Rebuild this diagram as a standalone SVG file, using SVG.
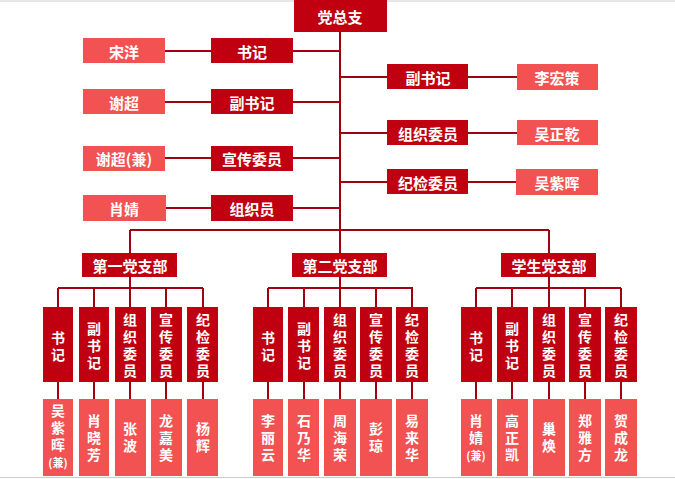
<svg xmlns="http://www.w3.org/2000/svg" width="675" height="479" viewBox="0 0 675 479">
<style>
.d{fill:#c00010}.n{fill:#f25252}
text{font-family:"Noto Sans CJK SC","Liberation Serif",serif;fill:#fff;font-weight:bold;text-anchor:middle;dominant-baseline:central;font-size:15px}
.v{font-size:14px}
.c line{stroke:#a00010;stroke-width:2}
</style>
<rect width="675" height="479" fill="#fff"/>
<line x1="0" y1="1" x2="675" y2="1" stroke="#ccc"/>
<line x1="0" y1="477.5" x2="675" y2="477.5" stroke="#ccc"/>
<g class="c">
<line x1="340" y1="32" x2="340" y2="253"/>
<line x1="130" y1="230" x2="549" y2="230"/>
<line x1="130" y1="230" x2="130" y2="253"/><line x1="549" y1="230" x2="549" y2="253"/>
<line x1="165" y1="51" x2="340" y2="51"/><line x1="165" y1="102" x2="340" y2="102"/>
<line x1="165" y1="158" x2="340" y2="158"/><line x1="165" y1="208" x2="340" y2="208"/>
<line x1="340" y1="77" x2="517" y2="77"/><line x1="340" y1="133" x2="517" y2="133"/><line x1="340" y1="182" x2="517" y2="182"/>
<line x1="130" y1="277" x2="130" y2="288"/><line x1="340" y1="277" x2="340" y2="288"/><line x1="549" y1="277" x2="549" y2="288"/>
<line x1="58" y1="288" x2="203" y2="288"/><line x1="268" y1="288" x2="413" y2="288"/><line x1="476" y1="288" x2="621" y2="288"/>
<line x1="58" y1="288" x2="58" y2="399"/><line x1="94" y1="288" x2="94" y2="399"/><line x1="130" y1="288" x2="130" y2="399"/><line x1="166" y1="288" x2="166" y2="399"/><line x1="203" y1="288" x2="203" y2="399"/>
<line x1="268" y1="288" x2="268" y2="399"/><line x1="304" y1="288" x2="304" y2="399"/><line x1="340" y1="288" x2="340" y2="399"/><line x1="376" y1="288" x2="376" y2="399"/><line x1="412" y1="288" x2="412" y2="399"/>
<line x1="476" y1="288" x2="476" y2="399"/><line x1="512" y1="288" x2="512" y2="399"/><line x1="549" y1="288" x2="549" y2="399"/><line x1="585" y1="288" x2="585" y2="399"/><line x1="621" y1="288" x2="621" y2="399"/>
</g>
<g id="top"><rect class="d" x="294" y="0" width="93" height="32"/><text x="340" y="16" font-size="19">党总支</text></g>
<g id="l1"><rect class="n" x="83" y="38" width="82" height="25"/><text x="124" y="51">宋洋</text><rect class="d" x="211" y="38" width="82" height="25"/><text x="252" y="51">书记</text></g>
<g id="l2"><rect class="n" x="83" y="89" width="82" height="25"/><text x="124" y="102">谢超</text><rect class="d" x="211" y="89" width="82" height="25"/><text x="252" y="102">副书记</text></g>
<g id="l3"><rect class="n" x="83" y="146" width="82" height="25"/><text x="124" y="158">谢超(兼)</text><rect class="d" x="211" y="146" width="82" height="25"/><text x="252" y="158">宣传委员</text></g>
<g id="l4"><rect class="n" x="83" y="195" width="83" height="26"/><text x="124" y="208">肖婧</text><rect class="d" x="211" y="195" width="82" height="26"/><text x="252" y="208">组织员</text></g>
<g id="r1"><rect class="d" x="387" y="64" width="81" height="25"/><text x="428" y="77">副书记</text><rect class="n" x="517" y="64" width="81" height="26"/><text x="557" y="77">李宏策</text></g>
<g id="r2"><rect class="d" x="387" y="120" width="81" height="25"/><text x="428" y="133">组织委员</text><rect class="n" x="517" y="120" width="81" height="25"/><text x="557" y="133">吴正乾</text></g>
<g id="r3"><rect class="d" x="387" y="169" width="81" height="25"/><text x="428" y="182">纪检委员</text><rect class="n" x="516" y="169" width="82" height="26"/><text x="557" y="182">吴紫晖</text></g>
<g id="b1"><rect class="d" x="82" y="253" width="95" height="24"/><text x="130" y="265">第一党支部</text></g>
<g id="b2"><rect class="d" x="292" y="253" width="95" height="24"/><text x="340" y="265">第二党支部</text></g>
<g id="b3"><rect class="d" x="501" y="253" width="95" height="24"/><text x="549" y="265">学生党支部</text></g>
<g id="cols" class="vv">
<g id="p1">
<rect class="d" x="43" y="307" width="30" height="75"/><text class="v" x="58"><tspan y="337">书</tspan><tspan x="58" y="354">记</tspan></text>
<rect class="d" x="79" y="307" width="30" height="75"/><text class="v" x="94"><tspan y="328">副</tspan><tspan x="94" y="345">书</tspan><tspan x="94" y="362">记</tspan></text>
<rect class="d" x="115" y="307" width="31" height="75"/><text class="v" x="130"><tspan y="319">组</tspan><tspan x="130" y="336">织</tspan><tspan x="130" y="353">委</tspan><tspan x="130" y="370">员</tspan></text>
<rect class="d" x="151" y="307" width="31" height="75"/><text class="v" x="166"><tspan y="319">宣</tspan><tspan x="166" y="336">传</tspan><tspan x="166" y="353">委</tspan><tspan x="166" y="370">员</tspan></text>
<rect class="d" x="187" y="307" width="31" height="75"/><text class="v" x="203"><tspan y="319">纪</tspan><tspan x="203" y="336">检</tspan><tspan x="203" y="353">委</tspan><tspan x="203" y="370">员</tspan></text>
<rect class="n" x="43" y="399" width="30" height="77"/><text class="v" x="58"><tspan y="410">吴</tspan><tspan x="58" y="427">紫</tspan><tspan x="58" y="444">晖</tspan><tspan x="58" y="462" font-size="11">(兼)</tspan></text>
<rect class="n" x="79" y="399" width="30" height="77"/><text class="v" x="94"><tspan y="420">肖</tspan><tspan x="94" y="437">晓</tspan><tspan x="94" y="454">芳</tspan></text>
<rect class="n" x="115" y="399" width="31" height="77"/><text class="v" x="130"><tspan y="428">张</tspan><tspan x="130" y="445">波</tspan></text>
<rect class="n" x="151" y="399" width="31" height="77"/><text class="v" x="166"><tspan y="420">龙</tspan><tspan x="166" y="437">嘉</tspan><tspan x="166" y="454">美</tspan></text>
<rect class="n" x="187" y="399" width="31" height="77"/><text class="v" x="203"><tspan y="428">杨</tspan><tspan x="203" y="445">辉</tspan></text>
</g>
<g id="p2">
<rect class="d" x="253" y="307" width="30" height="75"/><text class="v" x="268"><tspan y="337">书</tspan><tspan x="268" y="354">记</tspan></text>
<rect class="d" x="288" y="307" width="31" height="75"/><text class="v" x="304"><tspan y="328">副</tspan><tspan x="304" y="345">书</tspan><tspan x="304" y="362">记</tspan></text>
<rect class="d" x="324" y="307" width="32" height="75"/><text class="v" x="340"><tspan y="319">组</tspan><tspan x="340" y="336">织</tspan><tspan x="340" y="353">委</tspan><tspan x="340" y="370">员</tspan></text>
<rect class="d" x="360" y="307" width="32" height="75"/><text class="v" x="376"><tspan y="319">宣</tspan><tspan x="376" y="336">传</tspan><tspan x="376" y="353">委</tspan><tspan x="376" y="370">员</tspan></text>
<rect class="d" x="396" y="307" width="32" height="75"/><text class="v" x="412"><tspan y="319">纪</tspan><tspan x="412" y="336">检</tspan><tspan x="412" y="353">委</tspan><tspan x="412" y="370">员</tspan></text>
<rect class="n" x="253" y="399" width="30" height="77"/><text class="v" x="268"><tspan y="420">李</tspan><tspan x="268" y="437">丽</tspan><tspan x="268" y="454">云</tspan></text>
<rect class="n" x="288" y="399" width="31" height="77"/><text class="v" x="304"><tspan y="420">石</tspan><tspan x="304" y="437">乃</tspan><tspan x="304" y="454">华</tspan></text>
<rect class="n" x="324" y="399" width="32" height="77"/><text class="v" x="340"><tspan y="420">周</tspan><tspan x="340" y="437">海</tspan><tspan x="340" y="454">荣</tspan></text>
<rect class="n" x="360" y="399" width="32" height="77"/><text class="v" x="376"><tspan y="428">彭</tspan><tspan x="376" y="445">琼</tspan></text>
<rect class="n" x="396" y="399" width="32" height="77"/><text class="v" x="412"><tspan y="420">易</tspan><tspan x="412" y="437">来</tspan><tspan x="412" y="454">华</tspan></text>
</g>
<g id="p3">
<rect class="d" x="461" y="307" width="31" height="75"/><text class="v" x="476"><tspan y="337">书</tspan><tspan x="476" y="354">记</tspan></text>
<rect class="d" x="497" y="307" width="31" height="75"/><text class="v" x="512"><tspan y="328">副</tspan><tspan x="512" y="345">书</tspan><tspan x="512" y="362">记</tspan></text>
<rect class="d" x="533" y="307" width="32" height="75"/><text class="v" x="549"><tspan y="319">组</tspan><tspan x="549" y="336">织</tspan><tspan x="549" y="353">委</tspan><tspan x="549" y="370">员</tspan></text>
<rect class="d" x="569" y="307" width="32" height="75"/><text class="v" x="585"><tspan y="319">宣</tspan><tspan x="585" y="336">传</tspan><tspan x="585" y="353">委</tspan><tspan x="585" y="370">员</tspan></text>
<rect class="d" x="605" y="307" width="32" height="75"/><text class="v" x="621"><tspan y="319">纪</tspan><tspan x="621" y="336">检</tspan><tspan x="621" y="353">委</tspan><tspan x="621" y="370">员</tspan></text>
<rect class="n" x="461" y="399" width="31" height="77"/><text class="v" x="476"><tspan y="420">肖</tspan><tspan x="476" y="437">婧</tspan><tspan x="476" y="455" font-size="11">(兼)</tspan></text>
<rect class="n" x="497" y="399" width="31" height="77"/><text class="v" x="512"><tspan y="420">高</tspan><tspan x="512" y="437">正</tspan><tspan x="512" y="454">凯</tspan></text>
<rect class="n" x="533" y="399" width="32" height="77"/><text class="v" x="549"><tspan y="428">巢</tspan><tspan x="549" y="445">焕</tspan></text>
<rect class="n" x="569" y="399" width="32" height="77"/><text class="v" x="585"><tspan y="420">郑</tspan><tspan x="585" y="437">雅</tspan><tspan x="585" y="454">方</tspan></text>
<rect class="n" x="605" y="399" width="32" height="77"/><text class="v" x="621"><tspan y="420">贺</tspan><tspan x="621" y="437">成</tspan><tspan x="621" y="454">龙</tspan></text>
</g>
</g>
</svg>
